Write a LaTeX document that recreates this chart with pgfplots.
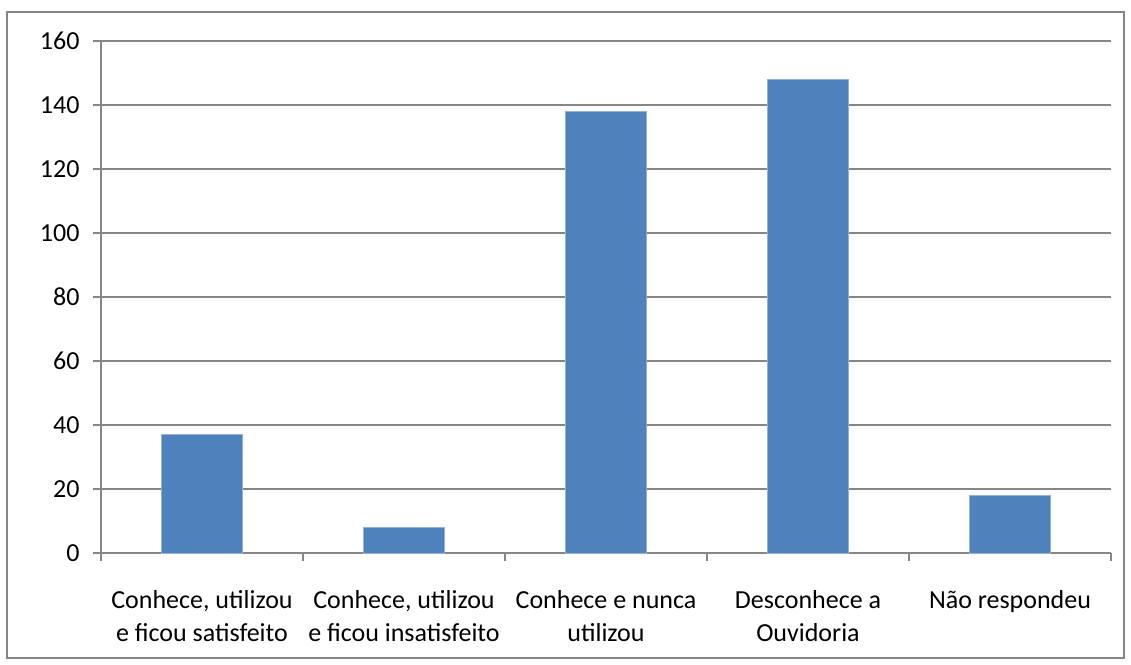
\documentclass[border=0pt]{standalone}
\usepackage{pgfplots}
\pgfplotsset{compat=1.18}
\usepackage{fontspec}
\setmainfont{Carlito}
\definecolor{barblue}{HTML}{4F81BD}
\definecolor{gridgray}{HTML}{868686}
\begin{document}
\begin{tikzpicture}[x=1pt,y=1pt]
\useasboundingbox (-101,-111) rectangle (1030,553);
\draw[gridgray, line width=1.3pt] (-94,-105) rectangle (1023,541);
\begin{axis}[
  at={(0,0)}, anchor=south west,
  scale only axis, width=1010pt, height=512pt,
  xmin=-0.5, xmax=4.5, ymin=0, ymax=160,
  ytick={0,20,...,160},
  xtick={0,1,2,3,4},
  xticklabels={{Conhece, utilizou\\e ficou satisfeito},{Conhece, utilizou\\e ficou insatisfeito},{Conhece e nunca\\utilizou},{Desconhece a\\Ouvidoria},{Não respondeu}},
  minor xtick={-0.5,0.5,1.5,2.5,3.5,4.5},
  major x tick style={draw=none},
  minor tick length=8pt,
  major tick length=8pt,
  tick align=outside,
  xtick pos=bottom, ytick pos=left,
  ymajorgrids,
  grid style={gridgray, line width=1.3pt},
  axis line style={gridgray, line width=1.3pt},
  tick style={gridgray, line width=1.3pt},
  axis x line*=bottom, axis y line*=left,
  tick label style={font=\fontsize{26}{33}\selectfont, text=black},
  xticklabel style={align=center, yshift=-26pt},
  yticklabel style={xshift=-10pt},
  /pgf/number format/assume math mode=true,
  ybar, bar width=81pt,
]
\addplot[fill=barblue, draw=barblue!60!white, line width=0.6pt] coordinates {(0,37) (1,8) (2,138) (3,148) (4,18)};
\end{axis}
\end{tikzpicture}
\end{document}
